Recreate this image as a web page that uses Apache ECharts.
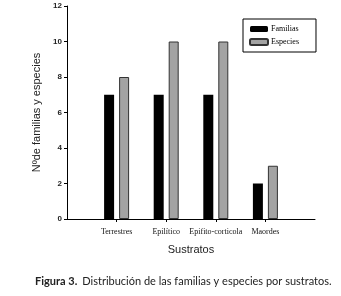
<!DOCTYPE html>
<html>
<head>
<meta charset="utf-8">
<script src="https://cdn.jsdelivr.net/npm/echarts@6/dist/echarts.min.js"></script>
<style>
  html, body { margin: 0; padding: 0; background: #fff; }
  #chart { width: 341px; height: 296px; }
</style>
</head>
<body>
<div id="chart"></div>
<script>
// datos
var categorias = ['', 'Terrestres', 'Epilítico', 'Epifito-corticola', 'Maordes', ''];
var familias = ['-', 7, 7, 7, 2, '-'];
var especies = ['-', 8, 10, 10, 3, '-'];
var yTicks = [0, 2, 4, 6, 8, 10, 12];

var chart = echarts.init(document.getElementById('chart'));

var option = {
  animation: false,
  backgroundColor: '#fff',
  title: {
    left: 30,
    top: 267,
    text: '{b|Figura 3.} {n|Distribución de las familias y especies por sustratos.}',
    textStyle: {
      fontWeight: 'normal',
      rich: {
        b: { fontFamily: 'Lato', fontWeight: 'bold', fontSize: 11, color: '#222' },
        n: { fontFamily: 'Lato', fontWeight: 'normal', fontSize: 11, color: '#222' }
      }
    }
  },
  legend: {
    orient: 'vertical',
    left: 243,
    top: 19,
    width: 70,
    padding: [6, 17, 6, 6],
    itemGap: 5,
    itemWidth: 18,
    itemHeight: 6,
    borderColor: '#000',
    borderWidth: 1,
    backgroundColor: '#fff',
    textStyle: { fontFamily: 'Liberation Serif', fontSize: 8, color: '#000', padding: [0, 0, 0, -2] },
    data: ['Familias', 'Especies']
  },
  grid: { left: 67, right: 26, top: 6, bottom: 77 },
  xAxis: {
    type: 'category',
    data: categorias,
    boundaryGap: false,
    name: 'Sustratos',
    nameLocation: 'middle',
    nameGap: 25,
    nameTextStyle: { fontFamily: 'Liberation Sans Narrow, Liberation Sans', fontSize: 11, color: '#222' },
    axisLine: { lineStyle: { color: '#000', width: 1 } },
    axisTick: {
      length: 3,
      interval: function (i) { return i > 0 && i < categorias.length - 1; },
      lineStyle: { color: '#000' }
    },
    axisLabel: {
      interval: 0,
      margin: 9,
      fontFamily: 'Liberation Serif',
      fontSize: 8,
      color: '#111'
    },
    splitLine: { show: false }
  },
  yAxis: {
    type: 'value',
    min: yTicks[0],
    max: yTicks[yTicks.length - 1],
    interval: 2,
    name: 'Nºde familias y especies',
    nameLocation: 'middle',
    nameGap: 23,
    nameTextStyle: { fontFamily: 'Liberation Sans', fontSize: 11, color: '#222' },
    axisLine: { show: true, lineStyle: { color: '#000', width: 1 } },
    axisTick: { show: true, length: 3, lineStyle: { color: '#000' } },
    axisLabel: { margin: 5, fontFamily: 'Liberation Sans', fontWeight: 'bold', fontSize: 8, color: '#222' },
    splitLine: { show: false }
  },
  series: [
    {
      name: 'Familias',
      type: 'bar',
      data: familias,
      barWidth: 10,
      barGap: '50%',
      itemStyle: { color: '#000' }
    },
    {
      name: 'Especies',
      type: 'bar',
      data: especies,
      barWidth: 10,
      itemStyle: { color: '#a3a3a3', borderColor: '#333', borderWidth: 1 }
    }
  ]
};

chart.setOption(option);
window.addEventListener('resize', chart.resize);
</script>
</body>
</html>
